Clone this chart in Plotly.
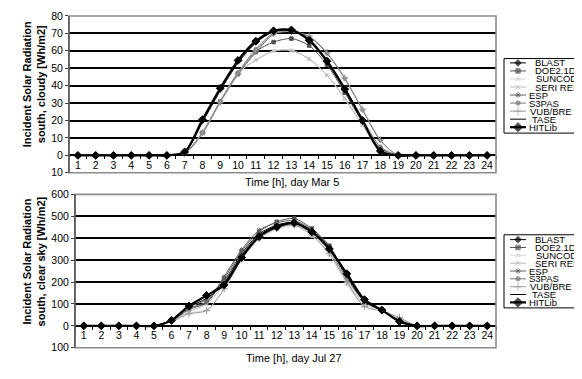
import plotly.graph_objects as go

# ---------------- data ----------------
hours = [str(h) for h in range(1, 25)]
series_names = ["BLAST", "DOE2.1D", "SUNCODE", "SERI RES", "ESP", "S3PAS", "VUB/BRE", "TASE", "HITLib"]

# Day Mar 5, south, cloudy [Wh/m2]
blast_mar5   = [0, 0, 0, 0, 0, 0, 2.0, 20.0, 38.0, 54.0, 65.0, 71.0, 72.0, 66.5, 54.5, 38.5, 20.5, 2.5, 0, 0, 0, 0, 0, 0]
doe_mar5     = [0, 0, 0, 0, 0, 0, 1.5, 13.0, 31.0, 47.0, 59.5, 65.0, 67.0, 63.0, 52.0, 36.0, 19.0, 4.0, 0, 0, 0, 0, 0, 0]
suncode_mar5 = [0, 0, 0, 0, 0, 0, 1.5, 13.0, 31.0, 47.0, 55.0, 60.0, 60.5, 55.0, 46.0, 32.0, 17.0, 3.0, 0, 0, 0, 0, 0, 0]
seri_mar5    = [0, 0, 0, 0, 0, 0, 1.5, 13.5, 31.0, 47.5, 54.5, 59.8, 60.0, 55.5, 46.0, 33.0, 17.5, 3.0, 0, 0, 0, 0, 0, 0]
esp_mar5     = [0, 0, 0, 0, 0, 0, 1.0, 12.5, 30.5, 46.5, 59.0, 69.5, 71.0, 68.0, 58.5, 44.0, 26.0, 8.5, 0, 0, 0, 0, 0, 0]
s3pas_mar5   = [0, 0, 0, 0, 0, 0, 1.5, 13.0, 31.0, 47.5, 61.0, 70.0, 71.5, 67.0, 55.0, 39.0, 21.0, 5.0, 0, 0, 0, 0, 0, 0]
vub_mar5     = [0, 0, 0, 0, 0, 0, 1.0, 13.0, 30.5, 47.0, 60.0, 70.0, 71.0, 68.5, 59.0, 44.5, 26.5, 9.0, 0, 0, 0, 0, 0, 0]
tase_mar5    = [0, 0, 0, 0, 0, 0, 1.5, 19.0, 37.0, 53.0, 64.5, 71.0, 71.5, 66.0, 53.5, 37.5, 19.5, 2.0, 0, 0, 0, 0, 0, 0]
hitlib_mar5  = [0, 0, 0, 0, 0, 0, 2.0, 20.5, 38.5, 54.5, 65.5, 71.5, 72.0, 66.0, 54.0, 38.0, 20.0, 2.5, 0, 0, 0, 0, 0, 0]

# Day Jul 27, south, clear sky [Wh/m2]
blast_jul27   = [0, 0, 0, 0, 0, 28, 95, 135, 205, 330, 420, 460, 472, 435, 360, 230, 118, 72, 22, 0, 0, 0, 0, 0]
doe_jul27     = [0, 0, 0, 0, 0, 22, 75, 105, 215, 340, 430, 475, 490, 444, 366, 225, 115, 70, 25, 0, 0, 0, 0, 0]
suncode_jul27 = [0, 0, 0, 0, 0, 20, 60, 72, 165, 300, 395, 440, 455, 410, 325, 190, 90, 70, 35, 0, 0, 0, 0, 0]
seri_jul27    = [0, 0, 0, 0, 0, 22, 65, 100, 190, 320, 410, 450, 462, 420, 340, 205, 100, 72, 30, 0, 0, 0, 0, 0]
esp_jul27     = [0, 0, 0, 0, 0, 25, 80, 110, 225, 348, 437, 470, 480, 440, 362, 220, 115, 72, 25, 0, 0, 0, 0, 0]
s3pas_jul27   = [0, 0, 0, 0, 0, 24, 85, 120, 200, 325, 415, 455, 465, 425, 345, 215, 110, 70, 25, 0, 0, 0, 0, 0]
vub_jul27     = [0, 0, 0, 0, 0, 20, 55, 70, 170, 305, 400, 445, 460, 415, 330, 200, 88, 68, 38, 0, 0, 0, 0, 0]
tase_jul27    = [0, 0, 0, 0, 0, 26, 88, 125, 195, 320, 412, 458, 468, 428, 350, 228, 112, 72, 22, 0, 0, 0, 0, 0]
hitlib_jul27  = [0, 0, 0, 0, 0, 25, 91, 139, 187, 312, 407, 451, 470, 429, 351, 238, 120, 72, 20, 0, 0, 0, 0, 0]

top_tickvals = [-10, 0, 10, 20, 30, 40, 50, 60, 70, 80]
top_ticktext = ["10", "0", "10", "20", "30", "40", "50", "60", "70", "80"]
bot_tickvals = [-100, 0, 100, 200, 300, 400, 500, 600]
bot_ticktext = ["100", "0", "100", "200", "300", "400", "500", "600"]

top_ytitle = "Incident Solar Radiation<br>south, cloudy [Wh/m2]"
bot_ytitle = "Incident Solar Radiation<br>south, clear sky [Wh/m2]"
top_xtitle = "Time [h], day Mar 5"
bot_xtitle = "Time [h], day Jul 27"

mar5 = [blast_mar5, doe_mar5, suncode_mar5, seri_mar5, esp_mar5, s3pas_mar5, vub_mar5, tase_mar5, hitlib_mar5]
jul27 = [blast_jul27, doe_jul27, suncode_jul27, seri_jul27, esp_jul27, s3pas_jul27, vub_jul27, tase_jul27, hitlib_jul27]

# ---------------- styles ----------------
W, H = 582, 379
FONT = "Liberation Sans, Arial, Helvetica, sans-serif"

def fx(px):
    return px / W

def fy(py):
    return 1 - py / H

styles = {
    "BLAST":    dict(color="#000000", width=1.0, symbol="diamond", size=4),
    "DOE2.1D":  dict(color="#505050", width=1.0, symbol="square", size=3.5),
    "SUNCODE":  dict(color="#d8d8d8", width=1.0, symbol="triangle-up", size=4),
    "SERI RES": dict(color="#b8b8b8", width=1.0, symbol="x-thin-open", size=4),
    "ESP":      dict(color="#606060", width=1.0, symbol="asterisk-open", size=4),
    "S3PAS":    dict(color="#787878", width=1.0, symbol="circle", size=3.5),
    "VUB/BRE":  dict(color="#9a9a9a", width=1.0, symbol="cross-thin-open", size=5),
    "TASE":     dict(color="#000000", width=1.0, symbol=None, size=0),
    "HITLib":   dict(color="#000000", width=2.2, symbol="diamond", size=6),
}
legend_text_x = [525, 525, 526, 525, 519, 519, 520, 522, 519]

panels = [
    dict(xa="x", ya="y", xkey="xaxis", ykey="yaxis", left=61, right=488, top=2, bottom=164,
         yr=[-10, 80], tv=top_tickvals, tt=top_ticktext, data=mar5,
         ytitle=top_ytitle, ytitle_y=73, xtitle=top_xtitle, xtitle_y=174, xtitle_x=284,
         leg_top=46, leg_bottom=123, row0=50.5, drow=8.3),
    dict(xa="x2", ya="y2", xkey="xaxis2", ykey="yaxis2", left=67, right=488, top=186.3, bottom=344.7,
         yr=[-100, 600], tv=bot_tickvals, tt=bot_ticktext, data=jul27,
         ytitle=bot_ytitle, ytitle_y=256, xtitle=bot_xtitle, xtitle_y=355, xtitle_x=286,
         leg_top=228, leg_bottom=303.5, row0=233, drow=8.1),
]

fig = go.Figure()
shapes = []
annotations = []
layout_axes = {}

for p in panels:
    # data traces
    for name, vals in zip(series_names, p["data"]):
        s = styles[name]
        mode = "lines+markers" if s["symbol"] else "lines"
        marker = dict(symbol=s["symbol"] or "circle", size=s["size"], color=s["color"],
                      line=dict(color=s["color"], width=1))
        fig.add_trace(go.Scatter(
            x=hours, y=vals, name=name, mode=mode, xaxis=p["xa"], yaxis=p["ya"],
            line=dict(color=s["color"], width=s["width"], shape="spline", smoothing=0.8),
            marker=marker, showlegend=False, hoverinfo="skip"))

    y0p, y1p = fy(p["bottom"]), fy(p["top"])
    ymin, ymax = p["yr"]
    zero_pos = y0p + (0 - ymin) / (ymax - ymin) * (y1p - y0p)

    layout_axes[p["xkey"]] = dict(
        domain=[fx(p["left"]), fx(p["right"])], anchor="free", position=zero_pos,
        type="category", range=[-0.5, 23.5], tickson="boundaries", tickangle=0,
        showgrid=False, zeroline=False, showline=True, linecolor="#000000", linewidth=1,
        ticks="outside", ticklen=3, tickcolor="#000000", tickwidth=1,
        tickfont=dict(family=FONT, size=10.5, color="#000000"),
        fixedrange=True)
    layout_axes[p["ykey"]] = dict(
        domain=[y0p, y1p], anchor=p["xa"], range=p["yr"],
        tickmode="array", tickvals=p["tv"], ticktext=p["tt"],
        showgrid=True, gridcolor="#000000", gridwidth=1.6, zeroline=False,
        showline=True, linecolor="#404040", linewidth=1,
        ticks="outside", ticklen=3, tickcolor="#404040",
        tickfont=dict(family=FONT, size=10.5, color="#000000"),
        fixedrange=True)

    # plot area border (grey)
    shapes.append(dict(type="rect", xref="paper", yref="paper",
                       x0=fx(p["left"]), x1=fx(p["right"]), y0=y0p, y1=y1p,
                       line=dict(color="#8c8c8c", width=1.6), layer="above"))
    # left axis line overdraw
    shapes.append(dict(type="line", xref="paper", yref="paper",
                       x0=fx(p["left"]), x1=fx(p["left"]), y0=y0p, y1=y1p,
                       line=dict(color="#404040", width=1), layer="above"))

    # axis titles
    annotations.append(dict(text="<b>" + p["ytitle"].replace("<br>", "</b><br><b>") + "</b>",
                            x=fx(25.5), y=fy(p["ytitle_y"]), xref="paper", yref="paper",
                            textangle=-90, showarrow=False, xanchor="center", yanchor="middle",
                            font=dict(family=FONT, size=11, color="#000000")))
    annotations.append(dict(text=p["xtitle"], x=fx(p["xtitle_x"]), y=fy(p["xtitle_y"]),
                            xref="paper", yref="paper", showarrow=False,
                            xanchor="center", yanchor="middle",
                            font=dict(family=FONT, size=11, color="#000000")))

    # legend box
    shapes.append(dict(type="rect", xref="paper", yref="paper",
                       x0=fx(496), x1=fx(581.5), y0=fy(p["leg_bottom"]), y1=fy(p["leg_top"]),
                       line=dict(color="#000000", width=1), fillcolor="#ffffff", layer="below"))
    for i, name in enumerate(series_names):
        s = styles[name]
        ry = p["row0"] + i * p["drow"]
        msize = [0, s["size"] + 1, 0] if s["symbol"] else [0, 0, 0]
        fig.add_trace(go.Scatter(
            x=[502, 510, 518], y=[ry, ry, ry], xaxis="x3", yaxis="y3",
            mode="lines+markers",
            line=dict(color=s["color"], width=s["width"]),
            marker=dict(symbol=s["symbol"] or "circle", size=msize, color=s["color"],
                        line=dict(color=s["color"], width=1)),
            showlegend=False, hoverinfo="skip"))
        annotations.append(dict(text=name, x=legend_text_x[i], y=ry, xref="x3", yref="y3",
                                showarrow=False, xanchor="left", yanchor="middle",
                                font=dict(family=FONT, size=9.5, color="#000000")))

# overlay pixel axis for the legend
layout_axes["xaxis3"] = dict(domain=[0, 1], range=[0, W], anchor="y3", visible=False, fixedrange=True)
layout_axes["yaxis3"] = dict(domain=[0, 1], range=[H, 0], anchor="x3", visible=False, fixedrange=True)

fig.update_layout(
    width=W, height=H, margin=dict(l=0, r=0, t=0, b=0),
    paper_bgcolor="#ffffff", plot_bgcolor="rgba(0,0,0,0)",
    showlegend=False, shapes=shapes, annotations=annotations,
    font=dict(family=FONT, size=10, color="#000000"),
    **layout_axes)

fig.write_html("out.html")
